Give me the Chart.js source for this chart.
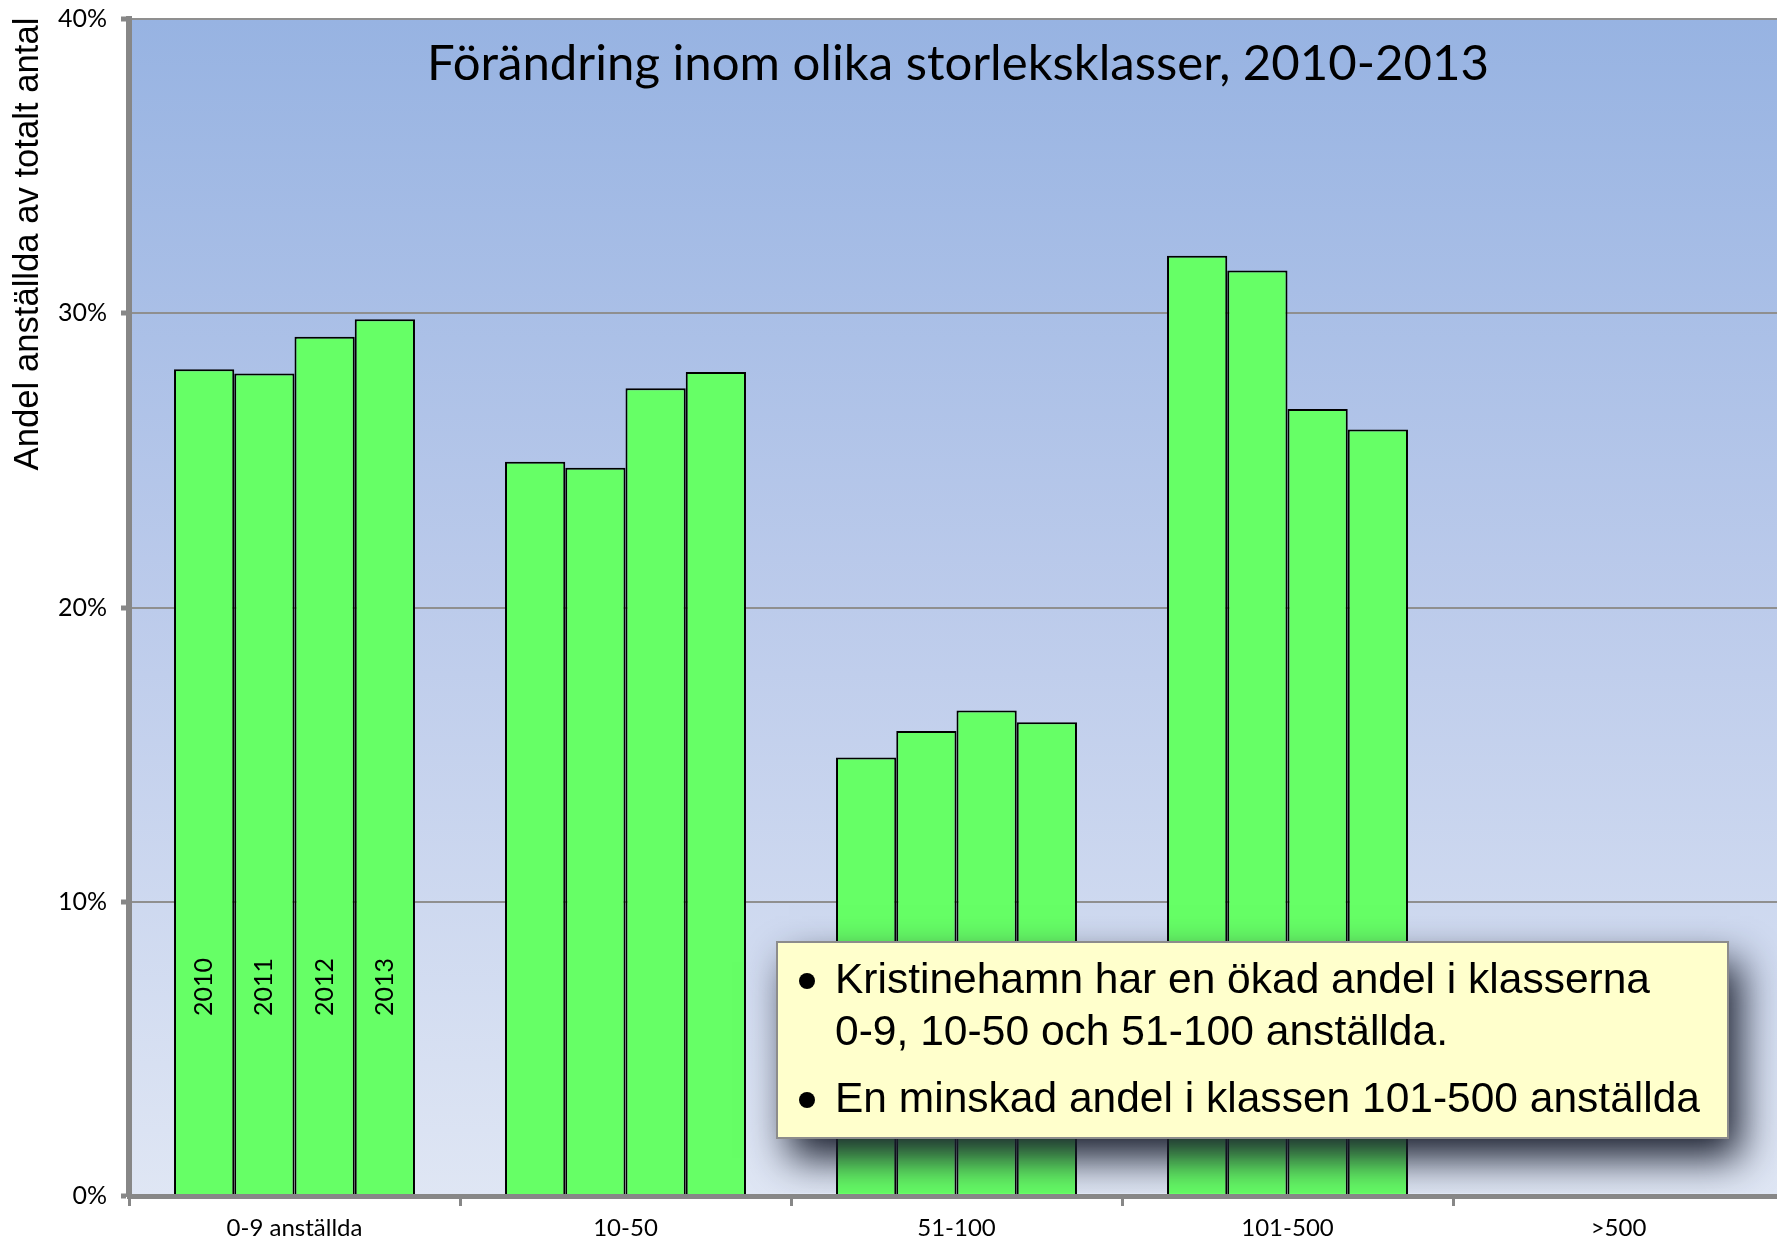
<!DOCTYPE html>
<html>
<head>
<meta charset="utf-8">
<script src="https://cdn.jsdelivr.net/npm/chart.js@4/dist/chart.umd.min.js"></script>
<style>
  html, body { margin: 0; padding: 0; width: 1777px; height: 1242px; overflow: hidden; background: #fff; }
  #wrap { position: absolute; left: 0; top: 0; width: 1800px; height: 1242px; }
</style>
</head>
<body>
<div id="wrap"><canvas id="c" width="1800" height="1242"></canvas></div>
<script>
// ---- data ----
const categories = ['0-9 anställda', '10-50', '51-100', '101-500', '>500'];
const years = ['2010', '2011', '2012', '2013'];
const v2010 = [28.1, 24.95, 14.9, 31.95, 0];
const v2011 = [27.95, 24.75, 15.8, 31.45, 0];
const v2012 = [29.2, 27.45, 16.5, 26.75, 0];
const v2013 = [29.8, 28.0, 16.1, 26.05, 0];
const yMin = 0, yMax = 40, yStep = 10;
const chartTitle = 'Förändring inom olika storleksklasser, 2010-2013';
const yAxisTitle = 'Andel anställda av totalt antal';
const noteLines = [
  { bullet: true,  text: 'Kristinehamn har en ökad andel i klasserna' },
  { bullet: false, text: '0-9, 10-50 och 51-100 anställda.' },
  { bullet: true,  text: 'En minskad andel i klassen 101-500 anställda' }
];

const seriesValues = [v2010, v2011, v2012, v2013];

const AXIS_GRAY = '#878787';
const GRID_GRAY = '#8f8f8f';
const LABEL_FONT = 'Lato, "Open Sans", sans-serif';

function fitFont(ctx, text, family, baseSize, targetWidth, weight) {
  ctx.font = (weight || '') + ' ' + baseSize + 'px ' + family;
  const w = ctx.measureText(text).width;
  return baseSize * targetWidth / w;
}

function drawStretched(ctx, text, x, y, targetWidth) {
  const w = ctx.measureText(text).width;
  ctx.save();
  ctx.translate(x, y);
  ctx.scale(targetWidth / w, 1);
  ctx.fillText(text, 0, 0);
  ctx.restore();
}

const decor = {
  id: 'decor',
  beforeDraw(chart) {
    const { ctx, chartArea: a } = chart;
    const g = ctx.createLinearGradient(0, a.top, 0, a.bottom);
    g.addColorStop(0, '#97b3e2');
    g.addColorStop(0.5, '#bccbeb');
    g.addColorStop(1, '#dfe6f4');
    ctx.save();
    ctx.fillStyle = g;
    ctx.fillRect(a.left, a.top, a.right - a.left, a.bottom - a.top);
    ctx.restore();
  },
  afterDatasetsDraw(chart) {
    const ctx = chart.ctx;
    ctx.save();
    ctx.fillStyle = '#000';
    ctx.font = '25px ' + LABEL_FONT;
    ctx.textAlign = 'center';
    ctx.textBaseline = 'middle';
    const yMid = chart.scales.y.getPixelForValue(7.1);
    years.forEach((yr, i) => {
      const bar = chart.getDatasetMeta(i).data[0];
      ctx.save();
      ctx.translate(bar.x, yMid);
      ctx.rotate(-Math.PI / 2);
      ctx.fillText(yr, 0, 0);
      ctx.restore();
    });
    ctx.restore();
  },
  afterDraw(chart) {
    const ctx = chart.ctx;
    // title
    ctx.save();
    ctx.fillStyle = '#000';
    ctx.textAlign = 'center';
    ctx.textBaseline = 'alphabetic';
    const ts = fitFont(ctx, chartTitle, LABEL_FONT, 46, 1062);
    ctx.font = ts + 'px ' + LABEL_FONT;
    ctx.fillText(chartTitle, 958, 80);
    ctx.restore();

    // y axis title
    ctx.save();
    ctx.fillStyle = '#000';
    ctx.textAlign = 'center';
    ctx.textBaseline = 'alphabetic';
    const ys = fitFont(ctx, yAxisTitle, '"Liberation Sans", Arial, sans-serif', 32, 453);
    ctx.font = ys + 'px "Liberation Sans", Arial, sans-serif';
    ctx.translate(38, 244);
    ctx.rotate(-Math.PI / 2);
    ctx.fillText(yAxisTitle, 0, 0);
    ctx.restore();

    // note box with shadow (clipped to the plot area)
    const a = chart.chartArea;
    const bx = 777, by = 942, bw = 951, bh = 196;
    ctx.save();
    ctx.beginPath();
    ctx.rect(a.left, a.top, a.right - a.left, a.bottom - a.top - 3);
    ctx.clip();
    ctx.shadowColor = 'rgba(25,30,45,1)';
    ctx.shadowBlur = 38;
    ctx.shadowOffsetX = 12;
    ctx.shadowOffsetY = 20;
    ctx.fillStyle = '#ffffcc';
    ctx.fillRect(bx, by, bw, bh);
    ctx.restore();
    ctx.save();
    ctx.strokeStyle = '#8c8c8c';
    ctx.lineWidth = 2;
    ctx.strokeRect(bx, by, bw, bh);
    ctx.fillStyle = '#000';
    ctx.textBaseline = 'alphabetic';
    ctx.textAlign = 'left';
    const nf = '"Liberation Sans Narrow", "Liberation Sans", Arial, sans-serif';
    ctx.font = '43px ' + nf;
    const baselines = [993, 1045, 1112];
    const widths = [815, 613, 865];
    noteLines.forEach((ln, i) => {
      if (ln.bullet) {
        ctx.beginPath();
        ctx.arc(807, baselines[i] - 12, 8, 0, Math.PI * 2);
        ctx.fill();
      }
      drawStretched(ctx, ln.text, 835, baselines[i], widths[i]);
    });
    ctx.restore();
  }
};

const datasets = years.map((yr, i) => ({
  label: yr,
  data: seriesValues[i],
  backgroundColor: '#66ff66',
  borderColor: '#000000',
  borderWidth: 2,
  borderSkipped: 'start',
  categoryPercentage: 0.728,
  barPercentage: 1.0
}));

new Chart(document.getElementById('c'), {
  type: 'bar',
  data: { labels: categories, datasets },
  options: {
    responsive: false,
    animation: false,
    devicePixelRatio: 1,
    layout: { padding: { top: 19, right: 16, left: 0, bottom: 0 } },
    plugins: {
      legend: { display: false },
      title: { display: false },
      tooltip: { enabled: false }
    },
    scales: {
      x: {
        afterFit(scale) { scale.height = 46; scale.paddingLeft = 0; scale.paddingRight = 0; },
        grid: {
          display: true,
          offset: true,
          drawOnChartArea: false,
          drawTicks: true,
          tickLength: 10,
          tickWidth: 3,
          tickColor: AXIS_GRAY
        },
        border: { display: true, color: AXIS_GRAY, width: 5, z: 1 },
        ticks: {
          color: '#000',
          font: { family: LABEL_FONT, size: 24 },
          padding: 8,
          maxRotation: 0
        }
      },
      y: {
        min: yMin,
        max: yMax,
        afterFit(scale) { scale.width = 129; scale.paddingTop = 0; scale.paddingBottom = 0; },
        ticks: {
          stepSize: yStep,
          color: '#000',
          font: { family: LABEL_FONT, size: 25 },
          padding: 14,
          callback: v => v + '%'
        },
        grid: {
          color: GRID_GRAY,
          lineWidth: 2,
          drawTicks: true,
          tickLength: 8,
          tickWidth: 5,
          tickColor: AXIS_GRAY
        },
        border: { display: true, color: AXIS_GRAY, width: 6, z: 1 }
      }
    }
  },
  plugins: [decor]
});
</script>
</body>
</html>
